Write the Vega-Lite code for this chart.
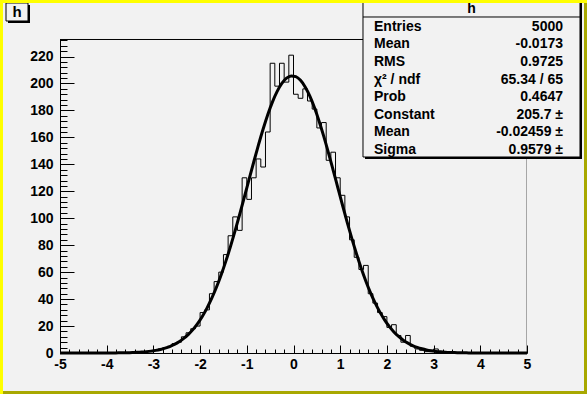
{
  "$schema": "https://vega.github.io/schema/vega-lite/v6.json",
  "width": 467,
  "height": 314,
  "autosize": {"type": "none"},
  "padding": {"left": 60, "top": 39, "right": 60, "bottom": 41},
  "background": "#f2f2f2",
  "config": {
    "view": {"stroke": null, "fill": null},
    "font": "Liberation Sans",
    "axis": {"zindex": 1}
  },
  "datasets": {
    "one": [{}],
    "hist": [
      {"x": -4.95, "n": 0}, {"x": -4.85, "n": 0}, {"x": -4.75, "n": 0}, {"x": -4.65, "n": 0}, {"x": -4.55, "n": 0},
      {"x": -4.45, "n": 0}, {"x": -4.35, "n": 0}, {"x": -4.25, "n": 0}, {"x": -4.15, "n": 0}, {"x": -4.05, "n": 0},
      {"x": -3.95, "n": 0}, {"x": -3.85, "n": 0}, {"x": -3.75, "n": 0}, {"x": -3.65, "n": 0}, {"x": -3.55, "n": 0},
      {"x": -3.45, "n": 0}, {"x": -3.35, "n": 1}, {"x": -3.25, "n": 0}, {"x": -3.15, "n": 1}, {"x": -3.05, "n": 1},
      {"x": -2.95, "n": 2}, {"x": -2.85, "n": 3}, {"x": -2.75, "n": 4}, {"x": -2.65, "n": 5}, {"x": -2.55, "n": 7},
      {"x": -2.45, "n": 8}, {"x": -2.35, "n": 12}, {"x": -2.25, "n": 15}, {"x": -2.15, "n": 18}, {"x": -2.05, "n": 20},
      {"x": -1.95, "n": 30}, {"x": -1.85, "n": 32}, {"x": -1.75, "n": 44}, {"x": -1.65, "n": 53}, {"x": -1.55, "n": 60},
      {"x": -1.45, "n": 73}, {"x": -1.35, "n": 87}, {"x": -1.25, "n": 101}, {"x": -1.15, "n": 91}, {"x": -1.05, "n": 130},
      {"x": -0.95, "n": 114}, {"x": -0.85, "n": 130}, {"x": -0.75, "n": 144}, {"x": -0.65, "n": 138}, {"x": -0.55, "n": 164},
      {"x": -0.45, "n": 215}, {"x": -0.35, "n": 198}, {"x": -0.25, "n": 215}, {"x": -0.15, "n": 201}, {"x": -0.05, "n": 221},
      {"x": 0.05, "n": 192}, {"x": 0.15, "n": 189}, {"x": 0.25, "n": 196}, {"x": 0.35, "n": 187}, {"x": 0.45, "n": 181},
      {"x": 0.55, "n": 167}, {"x": 0.65, "n": 171}, {"x": 0.75, "n": 143}, {"x": 0.85, "n": 149}, {"x": 0.95, "n": 130},
      {"x": 1.05, "n": 117}, {"x": 1.15, "n": 101}, {"x": 1.25, "n": 84}, {"x": 1.35, "n": 71}, {"x": 1.45, "n": 62},
      {"x": 1.55, "n": 65}, {"x": 1.65, "n": 44}, {"x": 1.75, "n": 37}, {"x": 1.85, "n": 30}, {"x": 1.95, "n": 27},
      {"x": 2.05, "n": 19}, {"x": 2.15, "n": 21}, {"x": 2.25, "n": 13}, {"x": 2.35, "n": 8}, {"x": 2.45, "n": 13},
      {"x": 2.55, "n": 5}, {"x": 2.65, "n": 3}, {"x": 2.75, "n": 2}, {"x": 2.85, "n": 1}, {"x": 2.95, "n": 1},
      {"x": 3.05, "n": 3}, {"x": 3.15, "n": 1}, {"x": 3.25, "n": 0}, {"x": 3.35, "n": 1}, {"x": 3.45, "n": 0},
      {"x": 3.55, "n": 0}, {"x": 3.65, "n": 0}, {"x": 3.75, "n": 0}, {"x": 3.85, "n": 0}, {"x": 3.95, "n": 0},
      {"x": 4.05, "n": 0}, {"x": 4.15, "n": 0}, {"x": 4.25, "n": 0}, {"x": 4.35, "n": 0}, {"x": 4.45, "n": 0},
      {"x": 4.55, "n": 0}, {"x": 4.65, "n": 0}, {"x": 4.75, "n": 0}, {"x": 4.85, "n": 0}, {"x": 4.95, "n": 0}
    ],
    "fit": [
      {"x": -5, "f": 0}, {"x": -3.95, "f": 0.05}, {"x": -3.85, "f": 0.07}, {"x": -3.75, "f": 0.11}, {"x": -3.65, "f": 0.16},
      {"x": -3.55, "f": 0.24}, {"x": -3.45, "f": 0.34}, {"x": -3.35, "f": 0.5}, {"x": -3.25, "f": 0.71}, {"x": -3.15, "f": 1.0},
      {"x": -3.05, "f": 1.4}, {"x": -2.95, "f": 1.94}, {"x": -2.85, "f": 2.65}, {"x": -2.75, "f": 3.59}, {"x": -2.65, "f": 4.81},
      {"x": -2.55, "f": 6.37}, {"x": -2.45, "f": 8.34}, {"x": -2.35, "f": 10.8}, {"x": -2.25, "f": 13.84}, {"x": -2.15, "f": 17.55},
      {"x": -2.05, "f": 22.01}, {"x": -1.95, "f": 27.3}, {"x": -1.85, "f": 33.49}, {"x": -1.75, "f": 40.63}, {"x": -1.65, "f": 48.75},
      {"x": -1.55, "f": 57.88}, {"x": -1.45, "f": 67.98}, {"x": -1.35, "f": 78.97}, {"x": -1.25, "f": 90.76}, {"x": -1.15, "f": 103.16},
      {"x": -1.05, "f": 115.97}, {"x": -0.95, "f": 128.99}, {"x": -0.85, "f": 141.91}, {"x": -0.75, "f": 154.42}, {"x": -0.65, "f": 166.21},
      {"x": -0.55, "f": 176.98}, {"x": -0.45, "f": 186.38}, {"x": -0.35, "f": 194.16}, {"x": -0.25, "f": 200.08}, {"x": -0.15, "f": 203.95},
      {"x": -0.05, "f": 205.63}, {"x": 0.05, "f": 205.08}, {"x": 0.15, "f": 202.31}, {"x": 0.25, "f": 197.41}, {"x": 0.35, "f": 190.56},
      {"x": 0.45, "f": 181.94}, {"x": 0.55, "f": 171.82}, {"x": 0.65, "f": 160.53}, {"x": 0.75, "f": 148.33}, {"x": 0.85, "f": 135.58},
      {"x": 0.95, "f": 122.6}, {"x": 1.05, "f": 109.64}, {"x": 1.15, "f": 96.99}, {"x": 1.25, "f": 84.87}, {"x": 1.35, "f": 73.48},
      {"x": 1.45, "f": 62.9}, {"x": 1.55, "f": 53.28}, {"x": 1.65, "f": 44.62}, {"x": 1.75, "f": 36.98}, {"x": 1.85, "f": 30.32},
      {"x": 1.95, "f": 24.58}, {"x": 2.05, "f": 19.71}, {"x": 2.15, "f": 15.63}, {"x": 2.25, "f": 12.28}, {"x": 2.35, "f": 9.52},
      {"x": 2.45, "f": 7.3}, {"x": 2.55, "f": 5.55}, {"x": 2.65, "f": 4.18}, {"x": 2.75, "f": 3.11}, {"x": 2.85, "f": 2.28},
      {"x": 2.95, "f": 1.66}, {"x": 3.05, "f": 1.19}, {"x": 3.15, "f": 0.85}, {"x": 3.25, "f": 0.6}, {"x": 3.35, "f": 0.41},
      {"x": 3.45, "f": 0.29}, {"x": 3.55, "f": 0.2}, {"x": 3.65, "f": 0.13}, {"x": 3.75, "f": 0.09}, {"x": 3.85, "f": 0.06},
      {"x": 3.95, "f": 0.04}, {"x": 5, "f": 0}
    ],
    "stats": [
      {"row": 0, "name": "Entries", "val": "5000"},
      {"row": 1, "name": "Mean", "val": "-0.0173"},
      {"row": 2, "name": "RMS", "val": "0.9725"},
      {"row": 3, "name": "χ² / ndf", "val": "65.34 / 65"},
      {"row": 4, "name": "Prob", "val": "0.4647"},
      {"row": 5, "name": "Constant", "val": "205.7 ±"},
      {"row": 6, "name": "Mean", "val": "-0.02459 ±"},
      {"row": 7, "name": "Sigma", "val": "0.9579 ±"}
    ]
  },
  "resolve": {"scale": {"y": "independent"}},
  "layer": [
    {
      "layer": [
        {
          "data": {"name": "hist"},
          "mark": {"type": "line", "interpolate": "step", "color": "black", "strokeWidth": 1},
          "encoding": {
            "x": {
              "field": "x", "type": "quantitative",
              "scale": {"domain": [-5, 5], "nice": false, "zero": false},
              "axis": {
                "title": null,
                "tickCount": 1000,
                "values": [-5, -4.8, -4.6, -4.4, -4.2, -4, -3.8, -3.6, -3.4, -3.2, -3, -2.8, -2.6, -2.4, -2.2, -2, -1.8, -1.6, -1.4, -1.2, -1, -0.8, -0.6, -0.4, -0.2, 0, 0.2, 0.4, 0.6, 0.8, 1, 1.2, 1.4, 1.6, 1.8, 2, 2.2, 2.4, 2.6, 2.8, 3, 3.2, 3.4, 3.6, 3.8, 4, 4.2, 4.4, 4.6, 4.8, 5],
                "tickSize": {"condition": {"test": "abs(datum.value - round(datum.value)) < 0.001", "value": -8}, "value": -4},
                "labelExpr": "abs(datum.value - round(datum.value)) < 0.001 ? '' + round(datum.value) : ''",
                "labelFont": "Liberation Sans", "labelFontWeight": "bold", "labelFontSize": 14, "labelColor": "black",
                "labelPadding": 12, "labelOverlap": false, "labelFlush": false, "labelBound": false,
                "domainColor": "black", "tickColor": "black", "grid": false
              }
            },
            "y": {
              "field": "n", "type": "quantitative",
              "scale": {"domain": [0, 233], "nice": false, "zero": true},
              "axis": {
                "title": null,
                "tickCount": 1000,
                "values": [0, 4, 8, 12, 16, 20, 24, 28, 32, 36, 40, 44, 48, 52, 56, 60, 64, 68, 72, 76, 80, 84, 88, 92, 96, 100, 104, 108, 112, 116, 120, 124, 128, 132, 136, 140, 144, 148, 152, 156, 160, 164, 168, 172, 176, 180, 184, 188, 192, 196, 200, 204, 208, 212, 216, 220, 224, 228, 232],
                "tickSize": {"condition": {"test": "datum.value % 20 === 0", "value": -14}, "value": -7},
                "labelExpr": "datum.value % 20 === 0 ? '' + datum.value : ''",
                "labelFont": "Liberation Sans", "labelFontWeight": "bold", "labelFontSize": 14, "labelColor": "black",
                "labelPadding": 21, "labelOverlap": false, "labelFlush": false, "labelBound": false,
                "domainColor": "black", "tickColor": "black", "grid": false
              }
            }
          }
        },
        {
          "data": {"name": "one"},
          "mark": {"type": "rule", "color": "black", "strokeWidth": 1},
          "encoding": {
            "x": {"datum": -5, "type": "quantitative"},
            "x2": {"datum": 5},
            "y": {"datum": 232.63, "type": "quantitative"}
          }
        },
        {
          "data": {"name": "one"},
          "mark": {"type": "rule", "color": "#a6a6a6", "strokeWidth": 1},
          "encoding": {
            "x": {"datum": 4.9893, "type": "quantitative"},
            "y": {"datum": 0, "type": "quantitative"},
            "y2": {"datum": 232.63}
          }
        },
        {
          "data": {"name": "fit"},
          "mark": {"type": "line", "interpolate": "monotone", "color": "black", "strokeWidth": 3},
          "encoding": {
            "x": {"field": "x", "type": "quantitative"},
            "y": {"field": "f", "type": "quantitative"}
          }
        },
        {
          "data": {"name": "one"},
          "mark": {"type": "rect", "fill": "black"},
          "encoding": {
            "x": {"datum": -6.1135, "type": "quantitative"},
            "x2": {"datum": -5.6424},
            "y": {"datum": 258.24, "type": "quantitative"},
            "y2": {"datum": 244.88}
          }
        },
        {
          "data": {"name": "one"},
          "mark": {"type": "rect", "fill": "#f2f2f2", "stroke": "black", "strokeWidth": 1},
          "encoding": {
            "x": {"datum": -6.1563, "type": "quantitative"},
            "x2": {"datum": -5.6852},
            "y": {"datum": 259.72, "type": "quantitative"},
            "y2": {"datum": 246.36}
          }
        },
        {
          "data": {"name": "one"},
          "mark": {"type": "text", "text": "h", "align": "center", "baseline": "middle", "font": "Liberation Sans", "fontSize": 15, "fontWeight": "bold", "color": "black"},
          "encoding": {
            "x": {"datum": -5.9208, "type": "quantitative"},
            "y": {"datum": 253.04, "type": "quantitative"}
          }
        },
        {
          "data": {"name": "one"},
          "mark": {"type": "rect", "fill": "black"},
          "encoding": {
            "x": {"datum": 1.531, "type": "quantitative"},
            "x2": {"datum": 6.1777},
            "y": {"datum": 259.72, "type": "quantitative"},
            "y2": {"datum": 143.96}
          }
        },
        {
          "data": {"name": "one"},
          "mark": {"type": "rect", "fill": "#f2f2f2", "stroke": "black", "strokeWidth": 1},
          "encoding": {
            "x": {"datum": 1.4882, "type": "quantitative"},
            "x2": {"datum": 6.1349},
            "y": {"datum": 261.2, "type": "quantitative"},
            "y2": {"datum": 145.44}
          }
        },
        {
          "data": {"name": "one"},
          "mark": {"type": "rule", "color": "black", "strokeWidth": 1},
          "encoding": {
            "x": {"datum": 1.4882, "type": "quantitative"},
            "x2": {"datum": 6.1349},
            "y": {"datum": 249.33, "type": "quantitative"}
          }
        },
        {
          "data": {"name": "one"},
          "mark": {"type": "text", "text": "h", "align": "center", "baseline": "middle", "font": "Liberation Sans", "fontSize": 14, "fontWeight": "bold", "color": "black"},
          "encoding": {
            "x": {"datum": 3.8116, "type": "quantitative"},
            "y": {"datum": 255.27, "type": "quantitative"}
          }
        },
        {
          "data": {"name": "one"},
          "mark": {"type": "rect", "fill": "#ffff00"},
          "encoding": {
            "x": {"datum": -6.2848, "type": "quantitative"},
            "x2": {"datum": 6.2848},
            "y": {"datum": 261.95, "type": "quantitative"},
            "y2": {"datum": 259.72}
          }
        },
        {
          "data": {"name": "one"},
          "mark": {"type": "rect", "fill": "#ffff00"},
          "encoding": {
            "x": {"datum": -6.2848, "type": "quantitative"},
            "x2": {"datum": -6.2206},
            "y": {"datum": 261.95, "type": "quantitative"},
            "y2": {"datum": -30.42}
          }
        },
        {
          "data": {"name": "one"},
          "mark": {"type": "rect", "fill": "#a8a800"},
          "encoding": {
            "x": {"datum": -6.2206, "type": "quantitative"},
            "x2": {"datum": 6.2848},
            "y": {"datum": -28.2, "type": "quantitative"},
            "y2": {"datum": -30.42}
          }
        },
        {
          "data": {"name": "one"},
          "mark": {"type": "rect", "fill": "#a8a800"},
          "encoding": {
            "x": {"datum": 6.2206, "type": "quantitative"},
            "x2": {"datum": 6.2848},
            "y": {"datum": 259.72, "type": "quantitative"},
            "y2": {"datum": -30.42}
          }
        }
      ]
    },
    {
      "data": {"name": "stats"},
      "layer": [
        {
          "mark": {"type": "text", "align": "left", "baseline": "middle", "font": "Liberation Sans", "fontSize": 14, "fontWeight": "bold", "color": "black"},
          "encoding": {
            "x": {"datum": 1.7238, "type": "quantitative"},
            "y": {"field": "row", "type": "quantitative", "scale": {"domain": [0, 7], "range": [-12.3, 110.9], "nice": false, "zero": false}, "axis": null},
            "text": {"field": "name"}
          }
        },
        {
          "mark": {"type": "text", "align": "right", "baseline": "middle", "font": "Liberation Sans", "fontSize": 14, "fontWeight": "bold", "color": "black"},
          "encoding": {
            "x": {"datum": 5.7709, "type": "quantitative"},
            "y": {"field": "row", "type": "quantitative", "axis": null},
            "text": {"field": "val"}
          }
        }
      ]
    }
  ]
}
